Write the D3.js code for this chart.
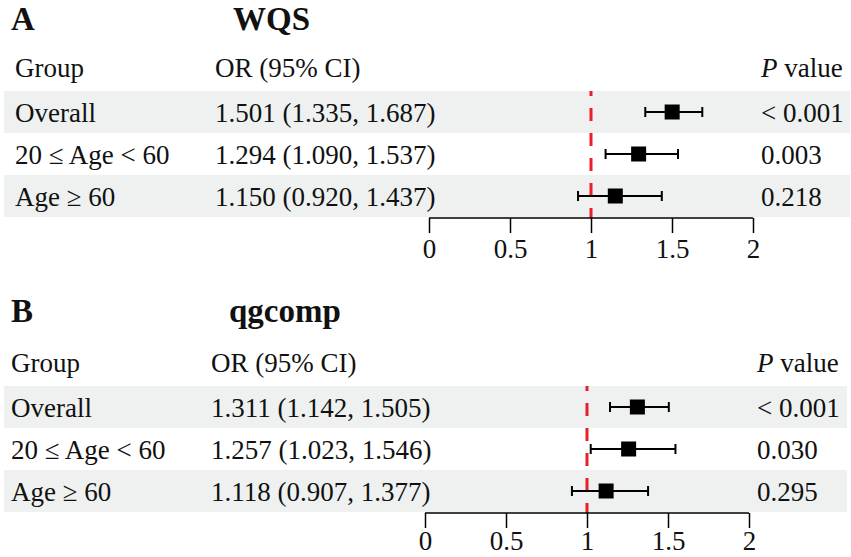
<!DOCTYPE html>
<html>
<head>
<meta charset="utf-8">
<script src="https://cdn.jsdelivr.net/npm/d3@7"></script>
<style>
  html, body { margin: 0; padding: 0; background: #fff; }
  svg { display: block; }
  text { font-family: "Liberation Serif", "Times New Roman", serif; fill: #111; }
</style>
</head>
<body>
<script>
// ---- data ----
const groups = ["Overall", "20 \u2264 Age < 60", "Age \u2265 60"];
const wqsOR = [1.501, 1.294, 1.150];
const wqsLow = [1.335, 1.090, 0.920];
const wqsHigh = [1.687, 1.537, 1.437];
const wqsP = ["< 0.001", "0.003", "0.218"];
const qgOR = [1.311, 1.257, 1.118];
const qgLow = [1.142, 1.023, 0.907];
const qgHigh = [1.505, 1.546, 1.377];
const qgP = ["< 0.001", "0.030", "0.295"];
const tickValues = [0, 0.5, 1, 1.5, 2];
const panelLetters = ["A", "B"];
const panelTitles = ["WQS", "qgcomp"];

const W = 851, H = 557;
const svg = d3.select("body").append("svg").attr("width", W).attr("height", H);

const panels = [
  { letter: panelLetters[0], title: panelTitles[0], or: wqsOR, lo: wqsLow, hi: wqsHigh, p: wqsP, dy: 0, dx: 0, right: 850, pad: 6, ty: 30 },
  { letter: panelLetters[1], title: panelTitles[1], or: qgOR, lo: qgLow, hi: qgHigh, p: qgP, dy: 295, dx: -4, right: 847, pad: 3, ty: 27 }
];

const fs = 27;
const rowTop = 91, rowH = 42, axisY = 218;

panels.forEach(P => {
  const g = svg.append("g").attr("transform", `translate(0,${P.dy})`);
  const x = d3.scaleLinear().domain([0, 2]).range([429 + P.dx, 753 + P.dx]);
  const rows = groups.map((gr, i) => ({ group: gr, or: P.or[i], lo: P.lo[i], hi: P.hi[i], p: P.p[i], i }));
  const yc = i => rowTop + rowH * i + rowH / 2;

  // title
  g.append("text").attr("x", 11).attr("y", P.ty).attr("font-size", 33).attr("font-weight", "bold").text(P.letter);
  g.append("text").attr("x", 233 + P.dx).attr("y", P.ty).attr("font-size", 33).attr("font-weight", "bold").text(P.title);

  // header
  g.append("text").attr("x", 15 + P.dx).attr("y", 77).attr("font-size", fs).text("Group");
  g.append("text").attr("x", 215 + P.dx).attr("y", 77).attr("font-size", fs).text("OR (95% CI)");
  const ph = g.append("text").attr("x", 761 + P.dx).attr("y", 77).attr("font-size", fs);
  ph.append("tspan").attr("font-style", "italic").text("P");
  ph.append("tspan").text(" value");

  // bands
  g.selectAll("rect.band").data(rows.filter(r => r.i % 2 === 0)).join("rect")
    .attr("class", "band")
    .attr("x", 4).attr("width", P.right - 4)
    .attr("y", d => rowTop + rowH * d.i).attr("height", rowH)
    .attr("fill", "#eef1f0");

  // row texts
  g.selectAll("text.grp").data(rows).join("text").attr("class", "grp")
    .attr("x", 15 + P.dx).attr("y", d => yc(d.i) + 10).attr("font-size", fs).text(d => d.group);
  g.selectAll("text.ci").data(rows).join("text").attr("class", "ci")
    .attr("x", 215 + P.dx).attr("y", d => yc(d.i) + 10).attr("font-size", fs)
    .text(d => `${d.or.toFixed(3)} (${d.lo.toFixed(3)}, ${d.hi.toFixed(3)})`);
  g.selectAll("text.pv").data(rows).join("text").attr("class", "pv")
    .attr("x", 761 + P.dx).attr("y", d => yc(d.i) + 10).attr("font-size", fs).text(d => d.p);

  // reference line
  g.append("line")
    .attr("x1", x(1)).attr("x2", x(1))
    .attr("y1", axisY).attr("y2", rowTop)
    .attr("stroke", "#e8202a").attr("stroke-width", 3)
    .attr("stroke-dasharray", "13,12").attr("stroke-dashoffset", 3);

  // CI lines
  g.selectAll("line.ci").data(rows).join("line").attr("class", "ci")
    .attr("x1", d => x(d.lo)).attr("x2", d => x(d.hi))
    .attr("y1", d => yc(d.i)).attr("y2", d => yc(d.i))
    .attr("stroke", "#000").attr("stroke-width", 2);
  g.selectAll("line.capl").data(rows).join("line").attr("class", "capl")
    .attr("x1", d => x(d.lo)).attr("x2", d => x(d.lo))
    .attr("y1", d => yc(d.i) - 5).attr("y2", d => yc(d.i) + 5)
    .attr("stroke", "#000").attr("stroke-width", 2);
  g.selectAll("line.caph").data(rows).join("line").attr("class", "caph")
    .attr("x1", d => x(d.hi)).attr("x2", d => x(d.hi))
    .attr("y1", d => yc(d.i) - 5).attr("y2", d => yc(d.i) + 5)
    .attr("stroke", "#000").attr("stroke-width", 2);
  g.selectAll("rect.pt").data(rows).join("rect").attr("class", "pt")
    .attr("x", d => x(d.or) - 7.5).attr("y", d => yc(d.i) - 7.5)
    .attr("width", 15).attr("height", 15).attr("fill", "#000");

  // axis
  const axis = d3.axisBottom(x).tickValues(tickValues).tickSize(15).tickPadding(P.pad)
    .tickFormat(d => d3.format("")(d));
  const ag = g.append("g").attr("transform", `translate(0,${axisY})`).call(axis);
  ag.select(".domain").attr("stroke", "#000").attr("stroke-width", 1.5).attr("d", `M${x(0)},0H${x(2)}`);
  ag.selectAll(".tick line").attr("stroke", "#000").attr("stroke-width", 1.5);
  ag.selectAll(".tick text").attr("font-size", fs).attr("font-family", "Liberation Serif").attr("fill", "#111");
});
</script>
</body>
</html>
